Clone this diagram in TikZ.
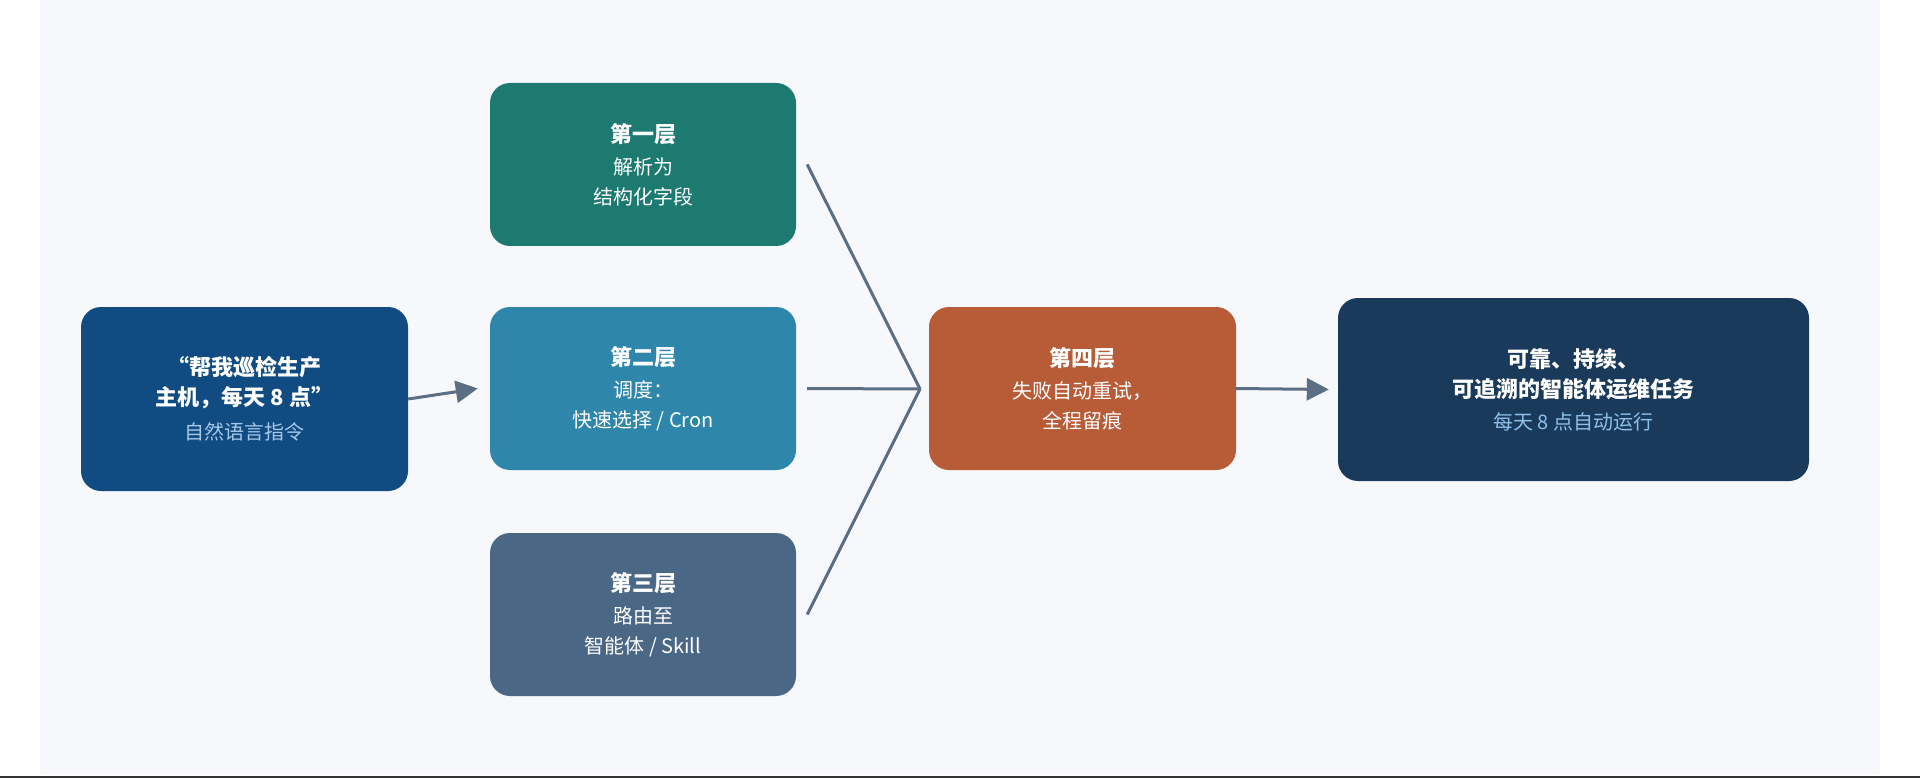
\documentclass[tikz,border=0pt]{standalone}
\usepackage{fontspec}
\setmainfont{Noto Sans CJK SC}
\usetikzlibrary{arrows.meta, positioning, calc}
\definecolor{panel}{RGB}{246, 248, 252}
\definecolor{inblue}{RGB}{16, 76, 130}
\definecolor{layerA}{RGB}{28, 122, 112}
\definecolor{layerB}{RGB}{46, 134, 171}
\definecolor{layerC}{RGB}{74, 103, 133}
\definecolor{layerD}{RGB}{184, 92, 56}
\definecolor{outblue}{RGB}{26, 58, 92}
\definecolor{link}{RGB}{90, 111, 132}
\definecolor{insub}{RGB}{168, 200, 232}
\definecolor{outsub}{RGB}{142, 193, 234}

\tikzset{
  box/.style={rounded corners=20pt, text=white, align=center, inner sep=0pt,
    font=\fontsize{20}{30}\selectfont},
  link/.style={draw=link, line width=3pt},
}

\begin{document}
\begin{tikzpicture}[x=1pt, y=-1pt]
  \useasboundingbox (0, 0) rectangle (1920, 778);
  \fill[panel] (40, 0) rectangle (1880, 774);
  \draw[black!80, line width=2pt] (0, 777) -- (1920, 777);

  % input and the four layers
  \node[box, fill=inblue, minimum width=327pt, minimum height=184pt] (ask) at (244.5, 399)
    {\textbf{\fontsize{22}{36}\selectfont “帮我巡检生产}\\
     \textbf{\fontsize{22}{36}\selectfont 主机，每天 8 点”}\\[4pt]
     \textcolor{insub}{自然语言指令}};
  \node[box, fill=layerA, minimum width=306pt, minimum height=163pt] (one) at (643, 164.5)
    {\textbf{\fontsize{22}{36}\selectfont 第一层}\\[2pt] 解析为\\ 结构化字段};
  \node[box, fill=layerB, minimum width=306pt, minimum height=163pt] (two) at (643, 388.5)
    {\textbf{\fontsize{22}{36}\selectfont 第二层}\\[2pt] 调度：\\ 快速选择 / Cron};
  \node[box, fill=layerC, minimum width=306pt, minimum height=163pt] (three) at (643, 614.5)
    {\textbf{\fontsize{22}{36}\selectfont 第三层}\\[2pt] 路由至\\ 智能体 / Skill};
  \node[box, fill=layerD, minimum width=307pt, minimum height=163pt] (four) at (1082.5, 388.5)
    {\textbf{\fontsize{22}{36}\selectfont 第四层}\\[2pt] 失败自动重试，\\ 全程留痕};
  \node[box, fill=outblue, minimum width=471pt, minimum height=183pt] (goal) at (1573.5, 389.5)
    {\textbf{\fontsize{22}{36}\selectfont 可靠、持续、}\\
     \textbf{\fontsize{22}{36}\selectfont 可追溯的智能体运维任务}\\[2pt]
     \textcolor{outsub}{每天 8 点自动运行}};

  % connectors
  \coordinate (hub) at (920, 389);
  \draw[link, -{Triangle[length=22pt, width=22pt]}] (ask.east) -- ([xshift=-12pt]two.west);
  \draw[link] ([xshift=11pt]one.east) -- (hub);
  \draw[link] ([xshift=11pt]two.east) -- (hub);
  \draw[link] ([xshift=11pt]three.east) -- (hub);
  \draw[link, -{Triangle[length=22pt, width=22pt]}] (four.east) -- ([xshift=-9pt]goal.west);
\end{tikzpicture}
\end{document}
